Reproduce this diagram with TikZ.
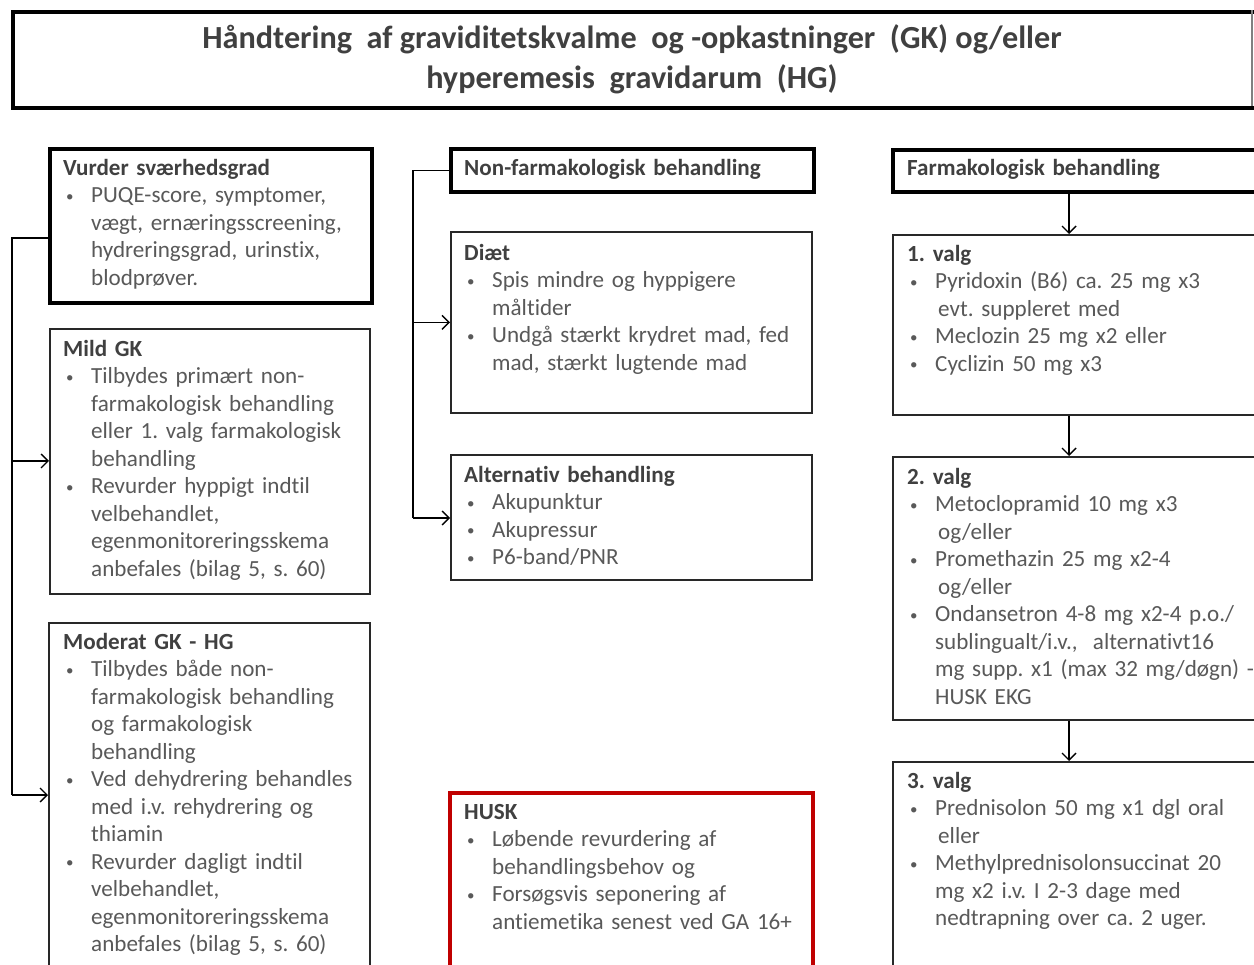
\documentclass[tikz,border=0pt]{standalone}
\usepackage{fontspec}
\setmainfont{Carlito}[Ligatures=NoCommon]
\usetikzlibrary{arrows.meta}
\definecolor{headgray}{RGB}{64,64,64}
\definecolor{bodygray}{RGB}{89,89,89}
\definecolor{boxgray}{RGB}{40,40,40}
\definecolor{huskred}{RGB}{192,0,0}
\newcommand{\myb}{\makebox[28pt][l]{\hspace{3pt}\raisebox{1.5pt}{\fontsize{15}{15}\selectfont\textbullet}}}
\newcommand{\myc}{\hspace*{28pt}}
\newcommand{\myd}{\hspace*{31pt}}
\newcommand{\myh}[1]{\textcolor{headgray}{\bfseries #1}}
\newcommand{\myfont}{\fontsize{23.1}{27.5}\selectfont\frenchspacing\spaceskip=4.4pt plus 1pt minus 0.5pt\relax}
\frenchspacing
\begin{document}
\begin{tikzpicture}[x=1pt,y=-1pt,
  thickbox/.style={draw=black, line width=4pt, anchor=north west, inner sep=0pt},
  thinbox/.style={draw=boxgray, line width=1.6pt, anchor=north west, inner sep=0pt},
  redbox/.style={draw=huskred, line width=3.5pt, anchor=north west, inner sep=0pt},
  txt/.style={anchor=north west, inner sep=0pt, align=left, text width=420pt,
    text=bodygray, font=\myfont},
  conn/.style={draw=black, line width=1.4pt},
  arr/.style={conn, -{Straight Barb[length=7pt,width=14pt,line width=1.4pt]}}]
\useasboundingbox (0,0) rectangle (1254,965);
\clip (0,0) rectangle (1254,965);
\fill[white] (0,0) rectangle (1254,965);

% title
\node[thickbox, minimum width=1260pt, minimum height=96pt] (tbox) at (11,10) {};
\draw[draw=gray, line width=1.2pt] (1252,10) -- (1252,106);
\node[anchor=north, inner sep=0pt, align=center, text=headgray,
  font=\fontsize{32.2}{40}\selectfont\bfseries] (title) at (632,20)
  {\strut Håndtering\ \ af graviditetskvalme\ \ og -opkastninger\ \ (GK) og/eller\\
   hyperemesis\ \ gravidarum\ \ (HG)};

% left column
\node[thickbox, minimum width=322pt, minimum height=154pt] (vurd) at (48,147) {};
\node[thinbox, minimum width=320pt, minimum height=265pt] (mild) at (49,328) {};
\node[thinbox, minimum width=321pt, minimum height=360pt] (mod) at (48,622) {};

\node[txt] (vurdT) at (63,155.75) {\strut\myh{Vurder sværhedsgrad}\\
\myb PUQE-score, symptomer,\\
\myc vægt, ernæringsscreening,\\
\myc hydreringsgrad, urinstix,\\
\myc blodprøver.};

\node[txt] (mildT) at (63,336.75) {\strut\myh{Mild GK}\\
\myb Tilbydes primært non-\\
\myc farmakologisk behandling\\
\myc eller 1. valg farmakologisk\\
\myc behandling\\
\myb Revurder hyppigt indtil\\
\myc velbehandlet,\\
\myc egenmonitoreringsskema\\
\myc anbefales (bilag 5, s. 60)};

\node[txt] (modT) at (63,629.75) {\strut\myh{Moderat GK - HG}\\
\myb Tilbydes både non-\\
\myc farmakologisk behandling\\
\myc og farmakologisk\\
\myc behandling\\
\myb Ved dehydrering behandles\\
\myc med i.v. rehydrering og\\
\myc thiamin\\
\myb Revurder dagligt indtil\\
\myc velbehandlet,\\
\myc egenmonitoreringsskema\\
\myc anbefales (bilag 5, s. 60)};

\coordinate (lt) at (12,238);
\coordinate (lm) at (12,461);
\coordinate (lb) at (12,795);
\draw[conn] (vurd.west |- lt) -- (lt) -- (lb);
\draw[arr] (lm) -- (mild.west |- lm);
\draw[arr] (lb) -- (mod.west |- lb);

% middle column
\node[thickbox, minimum width=363pt, minimum height=43pt] (nonf) at (449,147) {};
\node[thinbox, minimum width=361pt, minimum height=181pt] (diet) at (450,231) {};
\node[thinbox, minimum width=361pt, minimum height=125pt] (alt) at (450,454) {};
\node[redbox, minimum width=363pt, minimum height=200pt] (husk) at (448,791) {};

\node[txt] (nonfT) at (464,155.75) {\strut\myh{Non-farmakologisk behandling}};
\node[txt] (dietT) at (464,240.75) {\strut\myh{Diæt}\\
\myb Spis mindre og hyppigere\\
\myc måltider\\
\myb Undgå stærkt krydret mad, fed\\
\myc mad, stærkt lugtende mad};
\node[txt] (altT) at (464,462.75) {\strut\myh{Alternativ behandling}\\
\myb Akupunktur\\
\myb Akupressur\\
\myb P6-band/PNR};
\node[txt] (huskT) at (464,799.75) {\strut\myh{HUSK}\\
\myb Løbende revurdering af\\
\myc behandlingsbehov og\\
\myb Forsøgsvis seponering af\\
\myc antiemetika senest ved GA 16+};

\coordinate (mb) at (413,518);
\draw[conn] (nonf.west) -| (mb);
\draw[arr] (diet.west -| mb) -- (diet.west);
\draw[arr] (mb) -- (alt.west |- mb);

% right column
\node[thickbox, minimum width=380pt, minimum height=42pt] (farm) at (891,148) {};
\node[thinbox, minimum width=380pt, minimum height=180pt] (v1) at (892,234) {};
\node[thinbox, minimum width=380pt, minimum height=263pt] (v2) at (892,456) {};
\node[thinbox, minimum width=380pt, minimum height=220pt] (v3) at (892,761) {};

\node[txt] (farmT) at (907,155.75) {\strut\myh{Farmakologisk behandling}};
\node[txt] (v1T) at (907,241.75) {\strut\myh{1. valg}\\
\myb Pyridoxin (B6) ca. 25 mg x3\\
\myd evt. suppleret med\\
\myb Meclozin 25 mg x2 eller\\
\myb Cyclizin 50 mg x3};
\node[txt] (v2T) at (907,464.75) {\strut\myh{2. valg}\\
\myb Metoclopramid 10 mg x3\\
\myd og/eller\\
\myb Promethazin 25 mg x2-4\\
\myd og/eller\\
\myb Ondansetron 4-8 mg x2-4 p.o./\\
\myc sublingualt/i.v.,\ \ alternativt16\\
\myc mg supp. x1 (max 32 mg/døgn) -\\
\myc HUSK EKG};
\node[txt] (v3T) at (907,768.75) {\strut\myh{3. valg}\\
\myb Prednisolon 50 mg x1 dgl oral\\
\myd eller\\
\myb Methylprednisolonsuccinat 20\\
\myc mg x2 i.v. I 2-3 dage med\\
\myc nedtrapning over ca. 2 uger.};

\coordinate (rx) at (1069,0);
\draw[arr] (farm.south -| rx) -- (v1.north -| rx);
\draw[arr] (v1.south -| rx) -- (v2.north -| rx);
\draw[arr] (v2.south -| rx) -- (v3.north -| rx);
\end{tikzpicture}
\end{document}
